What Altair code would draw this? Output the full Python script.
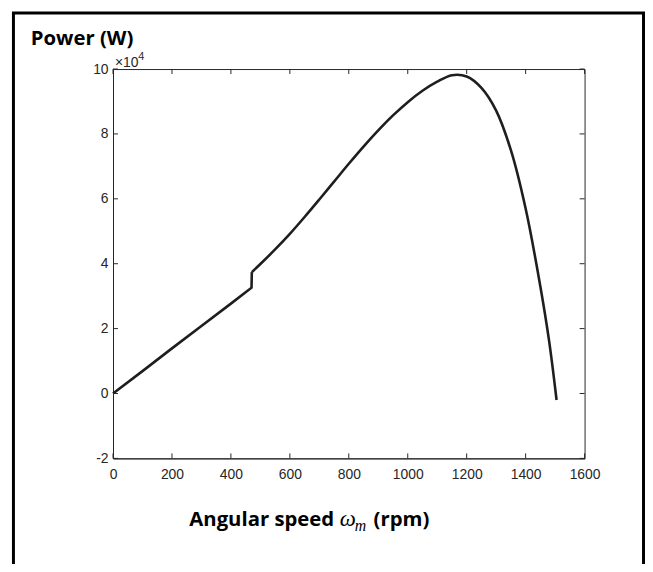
import altair as alt
import pandas as pd

# ---- data ----
speed_rpm = [0, 100, 200, 300, 400, 470, 471, 500, 550, 600, 650, 700, 750, 800,
             850, 900, 950, 1000, 1050, 1100, 1150, 1200, 1250, 1300,
             1350, 1400, 1450, 1480, 1505]
power_w = [0, 6900, 13900, 20800, 27700, 32600, 37400, 39900, 44400, 49200, 54400,
           59800, 65300, 70800, 76100, 81100, 85700, 89800, 93300, 96100, 98100,
           97700, 94200, 87200, 75000, 57000, 33000, 16000, -2000]
# operating region: 0 = below the switching point (straight), 1 = above it
region = [0] * 7 + [1] * 22

x_ticks = [0, 200, 400, 600, 800, 1000, 1200, 1400, 1600]
y_ticks = [-20000, 0, 20000, 40000, 60000, 80000, 100000]

W, H = 476, 393
AX = "#262626"

df = pd.DataFrame({"speed": speed_rpm, "power": power_w, "region": region})
df_b = df.iloc[6:].copy()  # curved part starts at the top of the step
df_a = df[df["region"] == 0]

xt = pd.DataFrame({"v": x_ticks})
yt = pd.DataFrame({"v": y_ticks})

xs = alt.Scale(domain=[0, 1600], nice=False, zero=False)
ys = alt.Scale(domain=[-20000, 100000], nice=False, zero=False)

xenc = alt.X("speed:Q", scale=xs,
             axis=alt.Axis(values=x_ticks, title=None, grid=False, tickSize=0, format="d",
                           labelPadding=9, labelFontSize=14, labelFont="Liberation Sans",
                           labelColor=AX, domainColor=AX, labelFlush=False))
yenc = alt.Y("power:Q", scale=ys,
             axis=alt.Axis(values=y_ticks, title=None, grid=False, tickSize=0,
                           labelPadding=5, labelFontSize=14, labelFont="Liberation Sans",
                           labelColor=AX, domainColor=AX, labelExpr="datum.value/10000",
                           labelFlush=False))

line_a = alt.Chart(df_a).mark_line(color="#1e1e1e", strokeWidth=2.6, strokeJoin="miter").encode(
    x=xenc, y=yenc)
line_b = alt.Chart(df_b).mark_line(color="#1e1e1e", strokeWidth=2.6, interpolate="catmull-rom").encode(
    x=alt.X("speed:Q", scale=xs), y=alt.Y("power:Q", scale=ys))

tick_style = dict(color=AX, strokeWidth=1)
xb = alt.Chart(xt).mark_rule(**tick_style).encode(
    x=alt.X("v:Q", scale=xs), y=alt.value(H), y2=alt.value(H - 5))
xtop = alt.Chart(xt).mark_rule(**tick_style).encode(
    x=alt.X("v:Q", scale=xs), y=alt.value(0), y2=alt.value(5))
yl = alt.Chart(yt).mark_rule(**tick_style).encode(
    y=alt.Y("v:Q", scale=ys), x=alt.value(0), x2=alt.value(5))
yr = alt.Chart(yt).mark_rule(**tick_style).encode(
    y=alt.Y("v:Q", scale=ys), x=alt.value(W), x2=alt.value(W - 5))

one = pd.DataFrame({"a": [0]})

def txt(s, x, y, size, font="Open Sans", weight="bold", style="normal", color="black", align="left"):
    return alt.Chart(one).mark_text(text=s, fontSize=size, font=font, fontWeight=weight,
                                    fontStyle=style, color=color, align=align,
                                    baseline="alphabetic").encode(
        x=alt.value(x), y=alt.value(y))

title = txt("Power (W)", -83, -24, 20.5)
mult = txt("×10", 2, -2, 14, font="Liberation Sans", weight="normal", color=AX)
expo = txt("4", 25.5, -9, 11, font="Liberation Sans", weight="normal", color=AX)

xl1 = txt("Angular speed", 77, 461, 20.5)
xl2 = txt("ω", 229, 461, 23, font="Liberation Serif", weight="normal", style="italic")
xl3 = txt("m", 244, 466, 16, font="Liberation Serif", weight="normal", style="italic")
xl4 = txt("(rpm)", 263, 461, 20.5)

border = alt.Chart(one).mark_rect(fill=None, stroke="black", strokeWidth=3).encode(
    x=alt.value(-100.5), x2=alt.value(535.5), y=alt.value(-56.5), y2=alt.value(520))

chart = alt.layer(line_a, line_b, xb, xtop, yl, yr, title, mult, expo,
                  xl1, xl2, xl3, xl4, border).properties(
    width=W, height=H,
    autosize=alt.AutoSizeParams(type="none"),
    padding={"left": 106, "top": 59, "right": 61, "bottom": 104},
    background="white",
).configure_view(stroke=AX, strokeWidth=1)

chart.save("out.html", embed_options={"renderer": "svg", "actions": False})
